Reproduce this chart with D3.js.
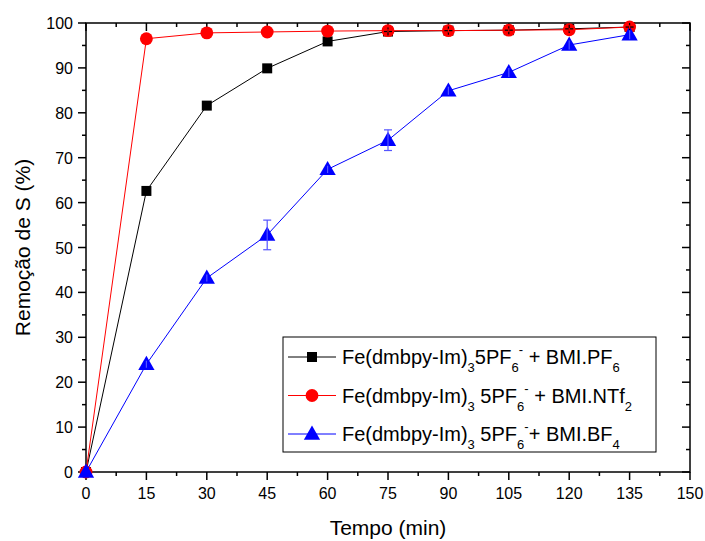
<!DOCTYPE html>
<html>
<head>
<meta charset="utf-8">
<script src="https://cdn.jsdelivr.net/npm/d3@7"></script>
<style>
    body { margin: 0; background: #fff; }
    svg { font-family: Arial, 'Liberation Sans', sans-serif; }
</style>
</head>
<body>
<svg class="chart" width="705" height="541"></svg>
<script>
const tempo = [0, 15, 30, 45, 60, 75, 90, 105, 120, 135];
const pf6 = [0, 62.6, 81.6, 89.9, 95.9, 98.1, 98.3, 98.4, 98.7, 99.1];
const pf6Err = [0, 0, 0, 0, 0, 0.9, 0.9, 0.9, 0.9, 0.9];
const ntf2 = [0, 96.5, 97.8, 98.0, 98.2, 98.3, 98.3, 98.4, 98.5, 99.1];
const ntf2Err = [0, 0.4, 0.4, 0.4, 0.4, 0.4, 0.4, 0.4, 0.4, 0.4];
const bf4 = [0, 24, 43.2, 52.8, 67.4, 73.9, 84.9, 89.0, 95.1, 97.4];
const bf4Err = [0, 0.8, 0.8, 3.3, 0.8, 2.3, 0.9, 1.0, 1.0, 1.0];
const xTicks = [0, 15, 30, 45, 60, 75, 90, 105, 120, 135, 150];
const yTicks = [0, 10, 20, 30, 40, 50, 60, 70, 80, 90, 100];

const svg = d3.select('.chart');
const x = d3.scaleLinear().domain([0, 150]).range([86, 690]);
const y = d3.scaleLinear().domain([0, 100]).range([472, 23]);

// frame
svg.append('rect')
    .attr('x', x(0)).attr('y', y(100))
    .attr('width', x(150) - x(0)).attr('height', y(0) - y(100))
    .attr('fill', 'none').attr('stroke', '#000').attr('stroke-width', 1.5);

const xMinor = d3.range(7.5, 150, 15);
const yMinor = d3.range(5, 100, 10);

function ticks(g, vals, len, horiz, pos, dir) {
    g.selectAll(null).data(vals).enter().append('line')
        .attr('x1', (d) => (horiz ? x(d) : pos))
        .attr('x2', (d) => (horiz ? x(d) : pos + dir * len))
        .attr('y1', (d) => (horiz ? pos : y(d)))
        .attr('y2', (d) => (horiz ? pos + dir * len : y(d)))
        .attr('stroke', '#000').attr('stroke-width', 1.5);
}
const tg = svg.append('g');
ticks(tg, xTicks, 8, true, y(0), 1);
ticks(tg, xMinor, 4, true, y(0), 1);
ticks(tg, xTicks, 8, true, y(100), 1);
ticks(tg, xMinor, 4, true, y(100), 1);
ticks(tg, yTicks, 8, false, x(0), -1);
ticks(tg, yMinor, 4, false, x(0), -1);
ticks(tg, yTicks, 8, false, x(150), -1);
ticks(tg, yMinor, 4, false, x(150), -1);

svg.append('g').selectAll('text').data(xTicks).enter().append('text')
    .attr('x', (d) => x(d)).attr('y', 499)
    .attr('text-anchor', 'middle').attr('font-size', 16)
    .text((d) => d);
svg.append('g').selectAll('text').data(yTicks).enter().append('text')
    .attr('x', 73).attr('y', (d) => y(d) + 6)
    .attr('text-anchor', 'end').attr('font-size', 16)
    .text((d) => d);

svg.append('text').attr('x', 388).attr('y', 535)
    .attr('text-anchor', 'middle').attr('font-size', 21).text('Tempo (min)');
svg.append('text')
    .attr('transform', `translate(30,${(y(0) + y(100)) / 2}) rotate(-90)`)
    .attr('text-anchor', 'middle').attr('font-size', 21).text('Remoção de S (%)');

const series = [
    { vals: pf6, err: pf6Err, color: '#000000', errColor: '#000000', shape: d3.symbolSquare, size: 100 },
    { vals: ntf2, err: ntf2Err, color: '#ff0000', errColor: '#ff0000', shape: d3.symbolCircle, size: 130 },
    { vals: bf4, err: bf4Err, color: '#0000ff', errColor: '#5555ff', shape: d3.symbolTriangle, size: 115 },
];

const line = d3.line().x((d) => x(d[0])).y((d) => y(d[1]));

series.forEach((s) => {
    const pts = tempo.map((t, i) => [t, s.vals[i], s.err[i]]);
    const g = svg.append('g');
    g.append('path').datum(pts).attr('d', line)
        .attr('fill', 'none').attr('stroke', s.color).attr('stroke-width', 1);
    g.selectAll('path.m').data(pts).enter().append('path')
        .attr('class', 'm')
        .attr('transform', (d) => `translate(${x(d[0])},${y(d[1]) + (s.shape === d3.symbolTriangle ? 1 : 0)})`)
        .attr('d', d3.symbol().type(s.shape).size(s.size))
        .attr('fill', s.color);
});

// error bars on top
series.forEach((s) => {
    const pts = tempo.map((t, i) => [t, s.vals[i], s.err[i]]).filter((d) => d[2] > 0);
    const eg = svg.append('g').attr('stroke', s.errColor).attr('stroke-width', 1.2);
    eg.selectAll(null).data(pts).enter().append('line')
        .attr('x1', (d) => x(d[0])).attr('x2', (d) => x(d[0]))
        .attr('y1', (d) => y(d[1] - d[2])).attr('y2', (d) => y(d[1] + d[2]));
    const capped = pts.filter((d) => d[2] > 1.5);
    eg.selectAll(null).data(capped).enter().append('line')
        .attr('x1', (d) => x(d[0]) - 4).attr('x2', (d) => x(d[0]) + 4)
        .attr('y1', (d) => y(d[1] + d[2])).attr('y2', (d) => y(d[1] + d[2]));
    eg.selectAll(null).data(capped).enter().append('line')
        .attr('x1', (d) => x(d[0]) - 4).attr('x2', (d) => x(d[0]) + 4)
        .attr('y1', (d) => y(d[1] - d[2])).attr('y2', (d) => y(d[1] - d[2]));
    eg.selectAll(null).data(pts.filter((d) => d[2] <= 1.5 && s.color === '#000000')).enter().append('line')
        .attr('x1', (d) => x(d[0]) - 4).attr('x2', (d) => x(d[0]) + 4)
        .attr('y1', (d) => y(d[1])).attr('y2', (d) => y(d[1]));
});

// legend
const legend = svg.append('g');
legend.append('rect').attr('x', 283).attr('y', 337).attr('width', 373).attr('height', 115)
    .attr('fill', '#fff').attr('stroke', '#000').attr('stroke-width', 1);

// [text, kind] kind: 0 normal, 1 subscript, 2 superscript over previous subscript
const legendRows = [
    [['Fe(dmbpy-Im)', 0], ['3', 1], ['5PF', 0], ['6', 1], ['-', 2], [' + BMI.PF', 0], ['6', 1]],
    [['Fe(dmbpy-Im)', 0], ['3', 1], [' 5PF', 0], ['6', 1], ['-', 2], [' + BMI.NTf', 0], ['2', 1]],
    [['Fe(dmbpy-Im)', 0], ['3', 1], [' 5PF', 0], ['6', 1], ['-', 2], ['+ BMI.BF', 0], ['4', 1]],
];

legendRows.forEach((row, i) => {
    const s = series[i];
    const cy = 357 + i * 38.5;
    const base = cy + 7;
    legend.append('line').attr('x1', 288).attr('x2', 336).attr('y1', cy).attr('y2', cy)
        .attr('stroke', s.color).attr('stroke-width', 1);
    legend.append('path').attr('transform', `translate(312,${cy + (i === 2 ? 1 : 0)})`)
        .attr('d', d3.symbol().type(s.shape).size(s.size)).attr('fill', s.color);
    const t = legend.append('text').attr('x', 342).attr('y', base).attr('font-size', 20);
    row.forEach(([str, kind]) => {
        const ts = t.append('tspan').text(str);
        if (kind === 1) {
            ts.attr('font-size', 13).attr('y', base + 8);
        } else if (kind === 2) {
            ts.attr('font-size', 13).attr('y', base - 10).attr('dx', 0);
        } else {
            ts.attr('y', base);
        }
    });
});
</script>
</body>
</html>
